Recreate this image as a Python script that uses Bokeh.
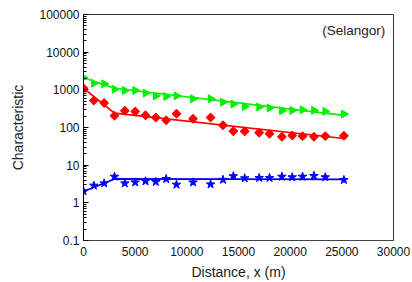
import math
from bokeh.plotting import figure
from bokeh.models import Range1d, FixedTicker, Label
from bokeh.embed import file_html
from bokeh.resources import INLINE

# ---- data ----
distance = [0, 1000, 2000, 3000, 4000, 5000, 6000, 7000, 8000, 9000, 10600, 12300,
            13500, 14500, 15600, 17000, 18000, 19200, 20200, 21200, 22300, 23400, 25200]
green_vals = [2100, 1500, 1440, 1040, 960, 960, 820, 690, 665, 690, 580, 580,
              470, 420, 360, 350, 330, 280, 285, 295, 285, 267, 228]
red_vals = [1100, 520, 445, 205, 280, 267, 210, 185, 155, 232, 170, 185,
            114, 80, 79, 73, 68, 57, 61, 59, 57, 59, 60]
blue_vals = [2.04, 2.87, 3.3, 4.96, 3.3, 3.5, 3.75, 3.6, 4.3, 3.05, 3.5, 3.1,
             4.1, 5.1, 4.5, 4.6, 4.6, 4.96, 4.8, 4.96, 5.2, 4.8, 4.06]

fit_x = [0, 3000, 25200]
green_fit = [2100, 1100, 210]
red_fit = [1100, 240, 51]
blue_fit = [2.0, 4.3, 4.2]

x_ticks = [0, 5000, 10000, 15000, 20000, 25000, 30000]
y_ticks = [0.1, 1, 10, 100, 1000, 10000, 100000]
y_tick_labels = ["0.1", "1", "10", "100", "1000", "10000", "100000"]
note_text = "(Selangor)"
note_pos = (29200, 37000)

FONT = "Liberation Sans"

p = figure(width=412, height=282, output_backend="svg", toolbar_location=None,
           y_axis_type="log", x_range=Range1d(0, 30000), y_range=Range1d(0.1, 100000))
p.min_border_left = 83
p.min_border_right = 19
p.min_border_top = 14
p.min_border_bottom = 41
p.background_fill_color = "white"
p.border_fill_color = "white"
p.outline_line_color = "#333333"
p.outline_line_width = 1
p.grid.visible = False

# x axis
xa = p.xaxis[0]
xa.ticker = FixedTicker(ticks=x_ticks)
xa.major_tick_in = 0
xa.major_tick_out = 0
xa.minor_tick_in = 0
xa.minor_tick_out = 0
xa.axis_line_color = "#444444"
xa.axis_label = "Distance, x (m)"
xa.axis_label_text_font = FONT
xa.axis_label_text_font_size = "14px"
xa.axis_label_text_font_style = "normal"
xa.axis_label_text_color = "#222222"
xa.major_label_text_font = FONT
xa.major_label_text_font_size = "12px"
xa.major_label_text_color = "#111111"
xa.major_label_standoff = 6
xa.axis_label_standoff = 5

# y axis
minor = []
for d in y_ticks[:-1]:
    for m in range(2, 10):
        minor.append(d * m)
ya = p.yaxis[0]
ya.ticker = FixedTicker(ticks=y_ticks, minor_ticks=minor)
ya.major_label_overrides = {t: l for t, l in zip(y_ticks, y_tick_labels)}
ya.major_tick_in = 5
ya.major_tick_out = 0
ya.minor_tick_in = 3
ya.minor_tick_out = 0
ya.axis_line_color = "black"
ya.major_tick_line_color = "black"
ya.minor_tick_line_color = "black"
ya.axis_label = "Characteristic"
ya.axis_label_text_font = FONT
ya.axis_label_text_font_size = "14px"
ya.axis_label_text_font_style = "normal"
ya.axis_label_text_color = "#222222"
ya.major_label_text_font = FONT
ya.major_label_text_font_size = "12px"
ya.major_label_text_color = "#111111"
ya.major_label_standoff = 4
ya.axis_label_standoff = 10

GREEN = "#00f000"
RED = "#ff0000"
BLUE = "#0000ff"

p.line(fit_x, green_fit, line_color=GREEN, line_width=1.7)
p.line(fit_x, red_fit, line_color=RED, line_width=1.7)
p.line(fit_x, blue_fit, line_color=BLUE, line_width=1.7)

p.scatter(distance, green_vals, marker="triangle", angle=-math.pi / 2, size=8,
          fill_color=GREEN, line_color=GREEN)
p.scatter(distance, red_vals, marker="square", angle=math.pi / 4, size=5.6,
          fill_color=RED, line_color=RED, line_join="round", line_width=1.5)
p.scatter(distance, blue_vals, marker="star", size=9,
          fill_color=BLUE, line_color=BLUE)

p.add_layout(Label(x=note_pos[0], y=note_pos[1], text=note_text, text_align="right",
                   text_baseline="middle", text_font=FONT, text_font_size="13.5px",
                   text_color="#222222"))

open("out.html", "w").write(file_html(p, INLINE))
